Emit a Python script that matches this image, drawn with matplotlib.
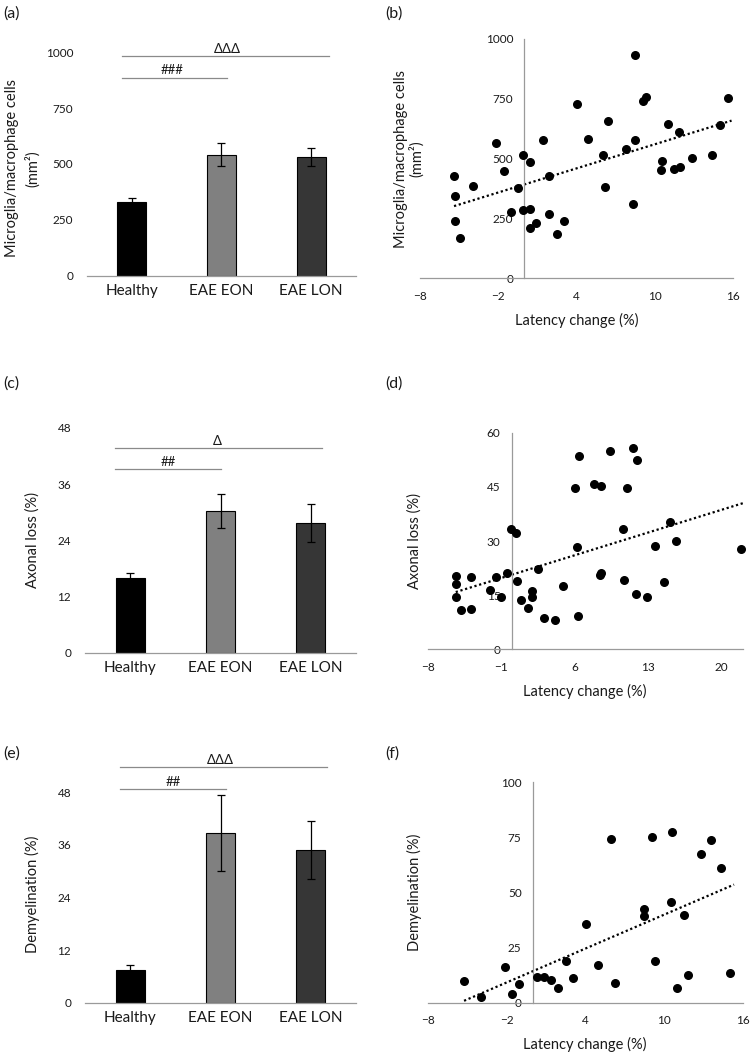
import numpy as np
import matplotlib
matplotlib.use("Agg")
import matplotlib.pyplot as plt

plt.rcParams['font.family'] = ['Lato', 'DejaVu Sans']

groups = ["Healthy", "EAE EON", "EAE LON"]
bar_colors = ["#000000", "#808080", "#363636"]

micro_mean = [330, 542, 533]
micro_err = [20, 53, 40]
axon_mean = [16.0, 30.3, 27.7]
axon_err = [1.05, 3.6, 4.0]
demy_mean = [7.45, 38.7, 34.8]
demy_err = [1.1, 8.75, 6.65]

# scatter (b)
b_x = [-5.39, -5.29, -5.29, -4.93, -3.91, -2.14, -1.58, -1.04, -0.50, -0.12, -0.12, 0.42, 0.42, 0.42,
       0.93, 1.44, 1.88, 1.88, 2.49, 3.05, 4.05, 4.90, 6.00, 6.20, 6.43, 7.81, 8.35, 8.45, 8.45, 9.09,
       9.32, 10.50, 10.58, 10.99, 11.47, 11.96, 11.83, 12.83, 14.39, 15.03, 15.59]
b_y = [429, 344, 238, 170, 387, 567, 450, 277, 377, 517, 287, 487, 288, 209,
       233, 578, 428, 269, 187, 241, 727, 581, 517, 383, 657, 539, 309, 578, 933, 740,
       759, 454, 489, 645, 457, 465, 610, 501, 517, 639, 752]
# scatter (d)
d_x = [-5.33, -5.30, -5.30, -4.86, -3.87, -3.87, -2.10, -1.52, -1.02, -0.44, -0.06, 0.41, 0.48, 0.92,
       1.52, 1.90, 1.90, 2.54, 3.11, 4.10, 4.89, 6.06, 6.22, 6.29, 6.44, 7.84, 8.41, 8.51, 8.51, 9.40,
       10.60, 10.67, 11.02, 11.56, 11.87, 11.97, 12.89, 13.62, 14.48, 15.08, 15.68, 21.81]
d_y = [20.2, 18.0, 14.4, 10.9, 19.9, 11.3, 16.5, 20.1, 14.4, 21.1, 33.4, 32.1, 19.0, 13.7,
       11.4, 16.2, 14.4, 22.2, 8.8, 8.2, 17.6, 44.7, 28.3, 9.1, 53.6, 45.7, 20.6, 21.1, 45.1, 54.8,
       33.4, 19.3, 44.8, 55.7, 15.3, 52.4, 14.4, 28.7, 18.7, 35.4, 30.1, 27.7]
# scatter (f)
f_x = [-5.23, -3.91, -2.11, -1.55, -1.07, 0.36, 0.87, 1.42, 1.91, 2.52, 3.08, 4.07, 4.96, 6.00,
       6.25, 8.46, 8.46, 9.10, 9.33, 10.57, 10.65, 11.03, 11.51, 11.84, 12.86, 13.59, 14.36, 15.04]
f_y = [10.0, 2.6, 16.2, 4.1, 8.5, 11.8, 11.6, 10.1, 6.7, 18.8, 11.2, 35.7, 17.1, 74.4,
       8.8, 42.4, 39.5, 75.0, 18.8, 45.8, 77.3, 6.7, 39.6, 12.7, 67.5, 73.7, 61.0, 13.3]

AXC = "#9a9a9a"
LINEC = "#8a8a8a"
TXT = "#1a1a1a"

fig = plt.figure(figsize=(7.53, 10.56), dpi=100)
W, H = 753, 1056


def ax_px(left, right, bottom_px, top_px):
    return fig.add_axes([left / W, 1 - bottom_px / H, (right - left) / W, (bottom_px - top_px) / H])


def bar_panel(ax, means, errs, ylim, yticks, ylabel, annots, linespacing=1.2):
    x = np.arange(len(groups))
    ax.bar(x, means, width=0.32, color=bar_colors, edgecolor="#000000", linewidth=0.8, zorder=2)
    ax.errorbar(x, means, yerr=errs, fmt="none", ecolor="#000000", elinewidth=0.9, capsize=3, capthick=0.9, zorder=3)
    ax.set_xlim(-0.5, 2.5)
    ax.set_ylim(*ylim)
    ax.set_yticks(yticks)
    ax.set_xticks(x)
    ax.set_xticklabels(groups, fontsize=11, color=TXT)
    for s in ["top", "right", "left"]:
        ax.spines[s].set_visible(False)
    ax.spines["bottom"].set_color(AXC)
    ax.spines["bottom"].set_linewidth(0.9)
    ax.tick_params(axis="both", length=0)
    ax.tick_params(axis="y", labelsize=8.5, pad=10, colors=TXT)
    ax.tick_params(axis="x", pad=6)
    ax.set_ylabel(ylabel, fontsize=10.5, color=TXT, linespacing=linespacing)
    for (x0, x1, yv, txt, tx, ty) in annots:
        ax.plot([x0, x1], [yv, yv], color=LINEC, linewidth=0.9, clip_on=False)
        ax.text(tx, ty, txt, ha="center", va="bottom", fontsize=9.5, color=TXT, clip_on=False)


def scatter_panel(ax, xs, ys, xlim, xticks, ylim, yticks, ylabel, linespacing=1.2):
    xs = np.array(xs)
    ys = np.array(ys)
    ax.scatter(xs, ys, s=30, color="#000000", zorder=3, clip_on=False)
    k, b = np.polyfit(xs, ys, 1)
    xx = np.array([xs.min(), xs.max() + 0.3])
    ax.plot(xx, k * xx + b, color="#000000", linestyle=(0, (1, 1.2)), linewidth=1.6, zorder=2)
    ax.set_xlim(*xlim)
    ax.set_ylim(*ylim)
    ax.set_xticks(xticks)
    ax.set_yticks(yticks)
    ax.spines["top"].set_visible(False)
    ax.spines["right"].set_visible(False)
    ax.spines["left"].set_position(("data", 0))
    for s in ["left", "bottom"]:
        ax.spines[s].set_color(AXC)
        ax.spines[s].set_linewidth(0.9)
    ax.tick_params(axis="both", length=0, labelsize=8.5, colors=TXT)
    ax.tick_params(axis="x", pad=9)
    ax.tick_params(axis="y", pad=8)
    ax.set_xlabel("Latency change (%)", fontsize=10.5, labelpad=8, color=TXT)
    ax.set_ylabel(ylabel, fontsize=10.5, color=TXT, linespacing=linespacing)


# (a)
axa = ax_px(87, 356, 275.7, 52.3)
bar_panel(axa, micro_mean, micro_err, (0, 1000), [0, 250, 500, 750, 1000],
          "Microglia/macrophage cells\n(mm²)",
          [(-0.11, 2.2, 985, "ΔΔΔ", 1.06, 990), (-0.11, 1.06, 887, "###", 0.45, 892)],
          linespacing=1.5)
axa.yaxis.set_label_coords(-0.175, 0.48)

# (b)
axb = ax_px(420, 733, 278.3, 39)
scatter_panel(axb, b_x, b_y, (-8, 16), [-8, -2, 4, 10, 16], (0, 1000), [0, 250, 500, 750, 1000],
              "Microglia/macrophage cells\n(mm²)", linespacing=1.05)
axb.yaxis.set_label_coords(0.012, 0.5)

# (c)
axc = ax_px(85, 356, 652.7, 428)
bar_panel(axc, axon_mean, axon_err, (0, 48), [0, 12, 24, 36, 48], "Axonal loss (%)",
          [(-0.17, 2.12, 43.7, "Δ", 0.96, 44.0), (-0.17, 1.0, 39.2, "##", 0.42, 39.5)])
axc.yaxis.set_label_coords(-0.166, 0.5)

# (d)
axd = ax_px(427.7, 742.7, 649.3, 432.7)
scatter_panel(axd, d_x, d_y, (-8, 22), [-8, -1, 6, 13, 20], (0, 60), [0, 15, 30, 45, 60], "Axonal loss (%)")
axd.yaxis.set_label_coords(-0.018, 0.5)

# (e)
axe = ax_px(85, 356, 1002.7, 757.3)
bar_panel(axe, demy_mean, demy_err, (0, 56), [0, 12, 24, 36, 48], "Demyelination (%)",
          [(-0.11, 2.18, 53.8, "ΔΔΔ", 1.0, 54.1), (-0.11, 1.06, 48.7, "##", 0.48, 49.0)])
axe.yaxis.set_label_coords(-0.166, 0.44)

# (f)
axf = ax_px(427.7, 742.7, 1002.7, 782.3)
scatter_panel(axf, f_x, f_y, (-8, 16), [-8, -2, 4, 10, 16], (0, 100), [0, 25, 50, 75, 100], "Demyelination (%)")
axf.yaxis.set_label_coords(-0.018, 0.5)

for lab, (px, py) in {"(a)": (3, 14), "(b)": (385, 14), "(c)": (3, 384), "(d)": (385, 384),
                      "(e)": (3, 754), "(f)": (385, 754)}.items():
    fig.text(px / W, 1 - py / H, lab, fontsize=11.5, ha="left", va="center", color=TXT)

fig.savefig("out.png", dpi=100)
